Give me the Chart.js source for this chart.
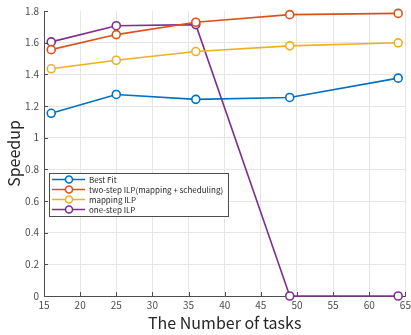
<!DOCTYPE html>
<html><head><meta charset="utf-8">
<script src="https://cdn.jsdelivr.net/npm/chart.js@4/dist/chart.umd.min.js"></script>
<style>html,body{margin:0;padding:0;background:#fff}#wrap{width:411px;height:335px}</style>
</head><body><div id="wrap"><canvas id="c" width="411" height="335"></canvas></div>
<script>
const taskCounts = [16, 25, 36, 49, 64];
const bestFit = [1.154, 1.273, 1.242, 1.254, 1.376];
const twoStepILP = [1.556, 1.651, 1.729, 1.777, 1.785];
const mappingILP = [1.435, 1.489, 1.544, 1.580, 1.599];
const oneStepILP = [1.605, 1.707, 1.714, 0, 0];
const seriesNames = ['Best Fit', 'two-step ILP(mapping + scheduling)', 'mapping ILP', 'one-step ILP'];
const seriesColors = ['#0072BD', '#D95319', '#EDB120', '#7E2F8E'];
const xTicks = [15, 20, 25, 30, 35, 40, 45, 50, 55, 60, 65];
const FONT = '"Noto Sans CJK JP", "DejaVu Sans", sans-serif';

const allSeries = [bestFit, twoStepILP, mappingILP, oneStepILP];
const datasets = allSeries.map((vals, i) => ({
  label: seriesNames[i],
  data: vals.map((v, j) => ({x: taskCounts[j], y: v})),
  borderColor: seriesColors[i],
  backgroundColor: '#ffffff',
  pointBackgroundColor: '#ffffff',
  pointBorderColor: seriesColors[i],
  pointBorderWidth: 1.6,
  pointRadius: 4,
  borderWidth: 1.6,
  tension: 0,
  clip: false
}));

const tickPlugin = {
  id: 'innerTicks',
  afterDraw(chart) {
    const ctx = chart.ctx, a = chart.chartArea;
    const xs = chart.scales.x, ys = chart.scales.y;
    ctx.save();
    ctx.strokeStyle = '#4d4d4d';
    ctx.lineWidth = 1;
    ctx.beginPath();
    xs.ticks.forEach(t => {
      const px = Math.round(xs.getPixelForValue(t.value)) + 0.5;
      ctx.moveTo(px, a.bottom); ctx.lineTo(px, a.bottom - 4);
    });
    ys.ticks.forEach(t => {
      const py = Math.round(ys.getPixelForValue(t.value)) + 0.5;
      ctx.moveTo(a.left, py); ctx.lineTo(a.left + 4, py);
    });
    ctx.stroke();
    ctx.restore();
  }
};

const legendPlugin = {
  id: 'innerLegend',
  afterDatasetsDraw(chart) {
    const ctx = chart.ctx;
    const x0 = 49, y0 = 173, w = 179, h = 43;
    ctx.save();
    ctx.fillStyle = '#ffffff';
    ctx.fillRect(x0, y0, w, h);
    ctx.strokeStyle = '#4d4d4d';
    ctx.lineWidth = 1;
    ctx.strokeRect(x0 + 0.5, y0 + 0.5, w, h);
    ctx.font = '8px ' + FONT;
    ctx.textBaseline = 'middle';
    chart.data.datasets.forEach((ds, i) => {
      const y = y0 + 6.5 + i * 10;
      ctx.strokeStyle = ds.borderColor;
      ctx.lineWidth = 1.6;
      ctx.beginPath(); ctx.moveTo(52, y); ctx.lineTo(85, y); ctx.stroke();
      ctx.beginPath(); ctx.arc(69, y, 3.5, 0, Math.PI * 2);
      ctx.fillStyle = '#fff'; ctx.fill(); ctx.stroke();
      ctx.fillStyle = '#262626';
      ctx.fillText(ds.label, 89, y + 0.5);
    });
    ctx.restore();
  }
};

new Chart(document.getElementById('c'), {
  type: 'line',
  data: {datasets},
  options: {
    responsive: false,
    animation: false,
    layout: {padding: {left: 0, top: 10, right: 3, bottom: 0}},
    plugins: {legend: {display: false}, tooltip: {enabled: false}},
    scales: {
      x: {
        type: 'linear', min: 15, max: 65,
        afterBuildTicks: s => { s.ticks = xTicks.map(v => ({value: v})); },
        afterFit: s => { s.height = 39; s.paddingLeft = 0; s.paddingRight = 0; },
        grid: {color: '#e6e6e6', lineWidth: 1, drawTicks: false},
        border: {color: '#4d4d4d', width: 1},
        ticks: {color: '#4d4d4d', font: {family: FONT, size: 10}, padding: 3, maxRotation: 0, autoSkip: false},
        title: {display: true, text: 'The Number of tasks', color: '#262626', font: {family: FONT, size: 16}, padding: {top: 0, bottom: 2}}
      },
      y: {
        type: 'linear', min: 0, max: 1.8,
        ticks: {stepSize: 0.2, color: '#4d4d4d', font: {family: FONT, size: 10}, padding: 5,
          callback: v => String(Math.round(v * 10) / 10)},
        afterFit: s => { s.width = 44; },
        grid: {color: c => (c.tick && c.tick.value >= 1.8 ? 'rgba(0,0,0,0)' : '#e6e6e6'), lineWidth: 1, drawTicks: false},
        border: {color: '#4d4d4d', width: 1},
        title: {display: true, text: 'Speedup', color: '#262626', font: {family: FONT, size: 16}, padding: {top: 4, bottom: 0}}
      }
    }
  },
  plugins: [legendPlugin, tickPlugin]
});
</script></body></html>
